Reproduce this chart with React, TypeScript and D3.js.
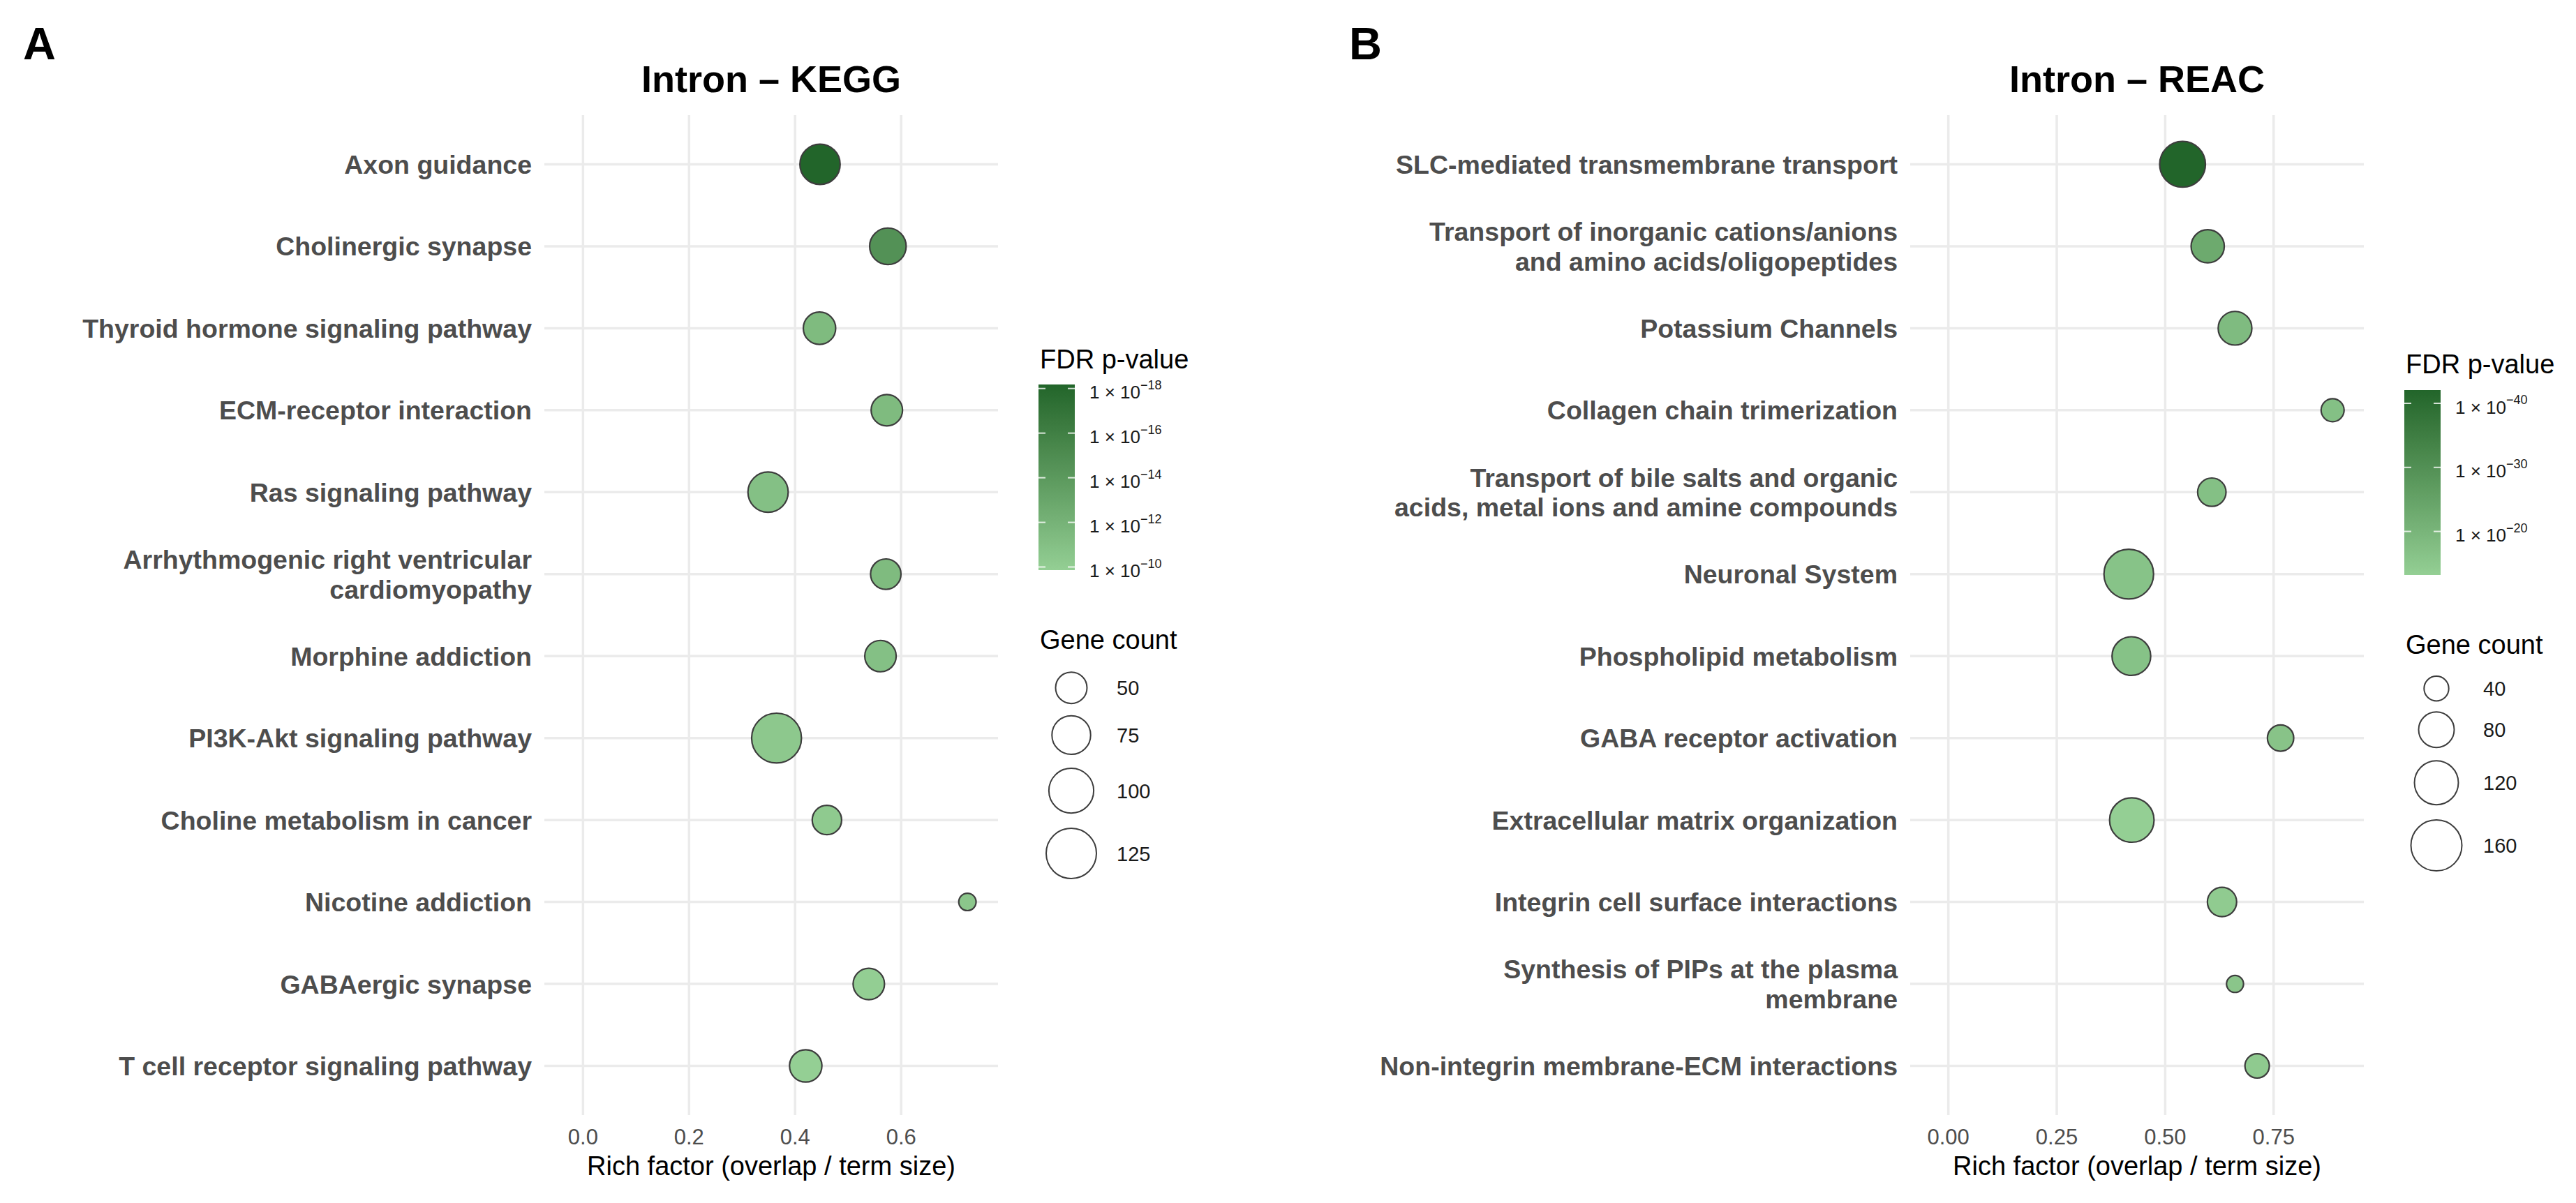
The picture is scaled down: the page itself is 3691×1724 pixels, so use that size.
import * as d3 from "d3";

// KEGG panel (A)
const keggTerms = [
  "Axon guidance",
  "Cholinergic synapse",
  "Thyroid hormone signaling pathway",
  "ECM-receptor interaction",
  "Ras signaling pathway",
  "Arrhythmogenic right ventricular\ncardiomyopathy",
  "Morphine addiction",
  "PI3K-Akt signaling pathway",
  "Choline metabolism in cancer",
  "Nicotine addiction",
  "GABAergic synapse",
  "T cell receptor signaling pathway",
];
const keggRich = [0.447, 0.575, 0.446, 0.573, 0.349, 0.571, 0.561, 0.365, 0.46, 0.725, 0.539, 0.42];
const keggCount = [81, 67, 53, 50, 81, 47, 50, 123, 44, 16, 50, 53];
// -log10(FDR)
const keggLogFdr = [18.18, 14.6, 11.4, 11.4, 11.0, 11.4, 11.0, 10.4, 10.2, 10.5, 9.95, 9.86];
const keggXTicks = [0, 0.2, 0.4, 0.6];
const keggFdrBreaks = [10, 12, 14, 16, 18];
const keggCountBreaks = [50, 75, 100, 125];

// Reactome panel (B)
const reacTerms = [
  "SLC-mediated transmembrane transport",
  "Transport of inorganic cations/anions\nand amino acids/oligopeptides",
  "Potassium Channels",
  "Collagen chain trimerization",
  "Transport of bile salts and organic\nacids, metal ions and amine compounds",
  "Neuronal System",
  "Phospholipid metabolism",
  "GABA receptor activation",
  "Extracellular matrix organization",
  "Integrin cell surface interactions",
  "Synthesis of PIPs at the plasma\nmembrane",
  "Non-integrin membrane-ECM interactions",
];
const reacRich = [0.54, 0.598, 0.661, 0.886, 0.6075, 0.416, 0.422, 0.766, 0.423, 0.631, 0.661, 0.712];
const reacCount = [130, 70, 72, 35, 52, 152, 94, 45, 123, 55, 20, 39];
const reacLogFdr = [42.07, 23, 18.4, 17.1, 17.1, 16.4, 16.6, 16.2, 13.2, 14.2, 15.8, 14.5];
const reacXTicks = [0, 0.25, 0.5, 0.75];
const reacFdrBreaks = [20, 30, 40];
const reacCountBreaks = [40, 80, 120, 160];

const LOW = "#94cf94";
const HIGH = "#22652a";
const FONT = "'Liberation Sans', Arial, Helvetica, sans-serif";
const TOP = 165;
const BOTTOM = 1598;

function Panel(props: any) {
  const {
    id, letter, letterX, title, terms, rich, count, logFdr, xTicks, tickFmt,
    fdrBreaks, countBreaks, left, right, labelRight, xDomain, rRange,
    legendX, fdrTitleY, barTop, barBottom, gcTitleY, circleX, gcLabelX,
  } = props;

  const x = d3.scaleLinear().domain(xDomain).range([left, right]);
  const y = d3.scalePoint<string>().domain(terms).range([TOP, BOTTOM]).padding(0.6);
  const r = d3.scaleSqrt().domain(d3.extent(countBreaks) as [number, number]).range(rRange);
  const ext = d3.extent(logFdr) as [number, number];
  const color = d3
    .scaleLinear<string>()
    .domain(ext)
    .range([LOW, HIGH])
    .interpolate(d3.interpolateLab);
  const barY = d3.scaleLinear().domain(ext).range([barBottom, barTop]);
  const fmt = d3.format(tickFmt);
  const cx = (left + right) / 2;
  const lh = 42.5;

  // gradient stops
  const stops = d3.range(0, 1.0001, 0.05);

  // legend key layout for size
  let cursor = gcTitleY + 25;
  const keys = countBreaks.map((b: number) => {
    const h = 2.48 * r(b) + 3;
    const c = cursor + h / 2;
    cursor += h;
    return { b, c };
  });

  const order = d3.range(terms.length).sort((a, b) => count[b] - count[a]);

  return (
    <g>
      <defs>
        <linearGradient id={`grad-${id}`} x1="0" y1="1" x2="0" y2="0">
          {stops.map((t) => (
            <stop key={t} offset={t} stopColor={color(ext[0] + t * (ext[1] - ext[0]))} />
          ))}
        </linearGradient>
      </defs>
      <text x={letterX} y={85} fontSize={65} fontWeight="bold" fill="#000">
        {letter}
      </text>
      <text x={cx} y={132} fontSize={54} fontWeight="bold" textAnchor="middle" fill="#000">
        {title}
      </text>

      {/* grid */}
      {xTicks.map((t: number) => (
        <line key={"v" + t} x1={x(t)} x2={x(t)} y1={TOP} y2={BOTTOM} stroke="#ebebeb" strokeWidth={3.5} />
      ))}
      {terms.map((t: string) => (
        <line key={"h" + t} x1={left} x2={right} y1={y(t)} y2={y(t)} stroke="#ebebeb" strokeWidth={3.5} />
      ))}

      {/* y labels */}
      {terms.map((t: string) => {
        const lines = t.split("\n");
        const y0 = (y(t) as number) - ((lines.length - 1) * lh) / 2 + 13.5;
        return (
          <text key={"l" + t} textAnchor="end" fontSize={37.5} fontWeight="bold" fill="#4d4d4d">
            {lines.map((ln, i) => (
              <tspan key={i} x={labelRight} y={y0 + i * lh}>
                {ln}
              </tspan>
            ))}
          </text>
        );
      })}

      {/* x ticks */}
      {xTicks.map((t: number) => (
        <text key={"t" + t} x={x(t)} y={1640} fontSize={31} textAnchor="middle" fill="#4d4d4d">
          {fmt(t)}
        </text>
      ))}
      <text x={cx} y={1684} fontSize={38} textAnchor="middle" fill="#000">
        Rich factor (overlap / term size)
      </text>

      {/* points */}
      {order.map((i: number) => (
        <circle
          key={"p" + i}
          cx={x(rich[i])}
          cy={y(terms[i])}
          r={r(count[i]) - 1}
          fill={color(logFdr[i])}
          stroke="#3d3d3d"
          strokeWidth={2.2}
        />
      ))}

      {/* FDR legend */}
      <text x={legendX + 2} y={fdrTitleY} fontSize={38} fill="#000">
        FDR p-value
      </text>
      <rect x={legendX} y={barTop} width={52} height={barBottom - barTop} fill={`url(#grad-${id})`} />
      {fdrBreaks.map((b: number) => (
        <g key={"f" + b}>
          <line x1={legendX} x2={legendX + 10} y1={barY(b)} y2={barY(b)} stroke="#fff" strokeOpacity={0.8} strokeWidth={2} />
          <line x1={legendX + 42} x2={legendX + 52} y1={barY(b)} y2={barY(b)} stroke="#fff" strokeOpacity={0.8} strokeWidth={2} />
          <text x={legendX + 73} y={barY(b) + 14.5} fontSize={26} fill="#1a1a1a">
            1 × 10
            <tspan dy={-13.5} fontSize={18}>
              {"\u2212" + b}
            </tspan>
          </text>
        </g>
      ))}

      {/* Gene count legend */}
      <text x={legendX + 2} y={gcTitleY} fontSize={38} fill="#000">
        Gene count
      </text>
      {keys.map((k: any) => (
        <g key={"k" + k.b}>
          <circle cx={circleX} cy={k.c} r={r(k.b) - 1} fill="none" stroke="#3d3d3d" strokeWidth={2} />
          <text x={gcLabelX} y={k.c + 10.5} fontSize={29} fill="#1a1a1a">
            {k.b}
          </text>
        </g>
      ))}
    </g>
  );
}

export default function App() {
  return (
    <svg
      width={3691}
      height={1724}
      style={{ position: "absolute", left: 0, top: 0, fontFamily: FONT }}
    >
      <rect width={3691} height={1724} fill="#fff" />
      <Panel
        id="kegg"
        letter="A"
        letterX={33}
        title="Intron – KEGG"
        terms={keggTerms}
        rich={keggRich}
        count={keggCount}
        logFdr={keggLogFdr}
        xTicks={keggXTicks}
        tickFmt=".1f"
        fdrBreaks={keggFdrBreaks}
        countBreaks={keggCountBreaks}
        left={780}
        right={1430}
        labelRight={762}
        xDomain={[-0.0729, 0.7827]}
        rRange={[23.5, 37]}
        legendX={1488}
        fdrTitleY={528}
        barTop={551}
        barBottom={817}
        gcTitleY={930}
        circleX={1535}
        gcLabelX={1600}
      />
      <Panel
        id="reac"
        letter="B"
        letterX={1933}
        title="Intron – REAC"
        terms={reacTerms}
        rich={reacRich}
        count={reacCount}
        logFdr={reacLogFdr}
        xTicks={reacXTicks}
        tickFmt=".2f"
        fdrBreaks={reacFdrBreaks}
        countBreaks={reacCountBreaks}
        left={2737}
        right={3387}
        labelRight={2719}
        xDomain={[-0.088, 0.958]}
        rRange={[18.7, 37.5]}
        legendX={3445}
        fdrTitleY={535}
        barTop={559}
        barBottom={824}
        gcTitleY={937}
        circleX={3491}
        gcLabelX={3558}
      />
    </svg>
  );
}
